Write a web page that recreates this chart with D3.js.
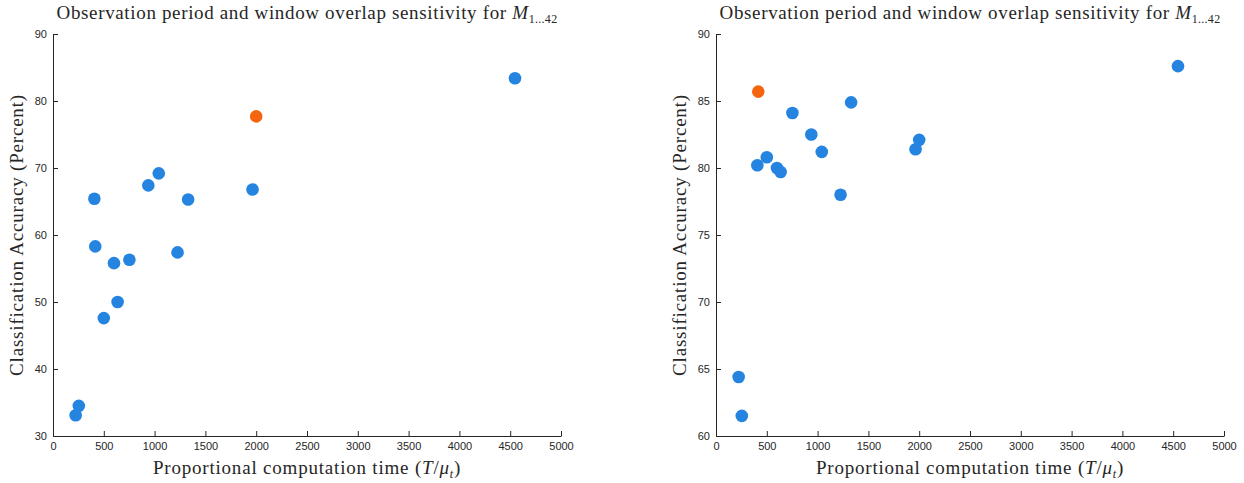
<!DOCTYPE html>
<html>
<head>
<meta charset="utf-8">
<script src="https://cdn.jsdelivr.net/npm/d3@7"></script>
<style>
  body { margin: 0; background: #fff; }
  .tick text { font-family: "Liberation Sans", Arial, sans-serif; font-size: 11px; fill: #262626; }
  .serif { font-family: "Liberation Serif", "DejaVu Serif", serif; fill: #262626; font-size: 19px; letter-spacing: 0.8px; }
</style>
</head>
<body>
<svg></svg>
<script>
// shared x values (proportional computation time)
const compTime = [223, 254, 407, 416, 500, 600, 636, 752, 938, 1041, 1226, 1330, 1964, 2000, 4547];

// left panel accuracy (index 13 = highlighted point)
const accLeft = [33.1, 34.5, 65.4, 58.3, 47.6, 55.8, 50.0, 56.3, 67.4, 69.2, 57.4, 65.3, 66.8, 77.7, 83.4];
const highlightLeft = 13;

// right panel accuracy (index 3 = highlighted point)
const accRight = [64.4, 61.5, 80.2, 85.7, 80.8, 80.0, 79.7, 84.1, 82.5, 81.2, 78.0, 84.9, 81.4, 82.1, 87.6];
const highlightRight = 3;

const xTicks = [0, 500, 1000, 1500, 2000, 2500, 3000, 3500, 4000, 4500, 5000];
const yTicksLeft = [30, 40, 50, 60, 70, 80, 90];
const yTicksRight = [60, 65, 70, 75, 80, 85, 90];

const svg = d3.select("svg").attr("width", 1244).attr("height", 483);

const blue = "#2484e0";
const orange = "#f5640f";

const panel = (left, yDomain, yTicks, values, hi) => {
  const margin = { top: 34, bottom: 47 };
  const w = 508;
  const h = 483 - margin.top - margin.bottom;

  const x = d3.scaleLinear().domain([0, 5000]).range([0, w]);
  const y = d3.scaleLinear().domain(yDomain).range([h, 0]);

  const g = svg.append("g").attr("transform", `translate(${left}, ${margin.top})`);

  const xAxis = g.append("g")
    .attr("transform", `translate(0, ${h})`)
    .call(d3.axisBottom(x).tickValues(xTicks).tickFormat(d3.format("d"))
      .tickSizeInner(-5).tickSizeOuter(0).tickPadding(6));
  const yAxis = g.append("g")
    .call(d3.axisLeft(y).tickValues(yTicks).tickFormat(d3.format("d"))
      .tickSizeInner(-5).tickSizeOuter(0).tickPadding(6));

  [xAxis, yAxis].forEach((a) => {
    a.select(".domain").attr("stroke", "#262626");
    a.selectAll(".tick line").attr("stroke", "#262626");
  });

  g.selectAll("circle")
    .data(values)
    .enter()
    .append("circle")
    .attr("cx", (d, i) => x(compTime[i]))
    .attr("cy", (d) => y(d))
    .attr("r", 6.3)
    .attr("fill", (d, i) => (i === hi ? orange : blue));

  // title
  const t = g.append("text")
    .attr("class", "serif")
    .attr("x", w / 2)
    .attr("y", -15)
    .attr("text-anchor", "middle")
    .style("letter-spacing", "0.65px");
  t.append("tspan").text("Observation period and window overlap sensitivity for ");
  t.append("tspan").attr("font-style", "italic").text("M");
  t.append("tspan").attr("dy", 4).style("font-size", "12px").style("letter-spacing", "0.3px").text("1...42");

  // x label
  const xl = g.append("text")
    .attr("class", "serif")
    .attr("x", w / 2)
    .attr("y", h + 38)
    .attr("text-anchor", "middle");
  xl.append("tspan").text("Proportional computation time (");
  xl.append("tspan").attr("font-style", "italic").text("T");
  xl.append("tspan").text("/");
  xl.append("tspan").attr("font-style", "italic").text("μ");
  xl.append("tspan").attr("font-style", "italic").attr("dy", 4).style("font-size", "12px").text("t");
  xl.append("tspan").attr("dy", -4).text(")");

  // y label
  g.append("text")
    .attr("class", "serif")
    .attr("transform", `translate(-30, ${h / 2}) rotate(-90)`)
    .attr("text-anchor", "middle")
    .text("Classification Accuracy (Percent)");
};

panel(53, [30, 90], yTicksLeft, accLeft, highlightLeft);
panel(716, [60, 90], yTicksRight, accRight, highlightRight);
</script>
</body>
</html>
